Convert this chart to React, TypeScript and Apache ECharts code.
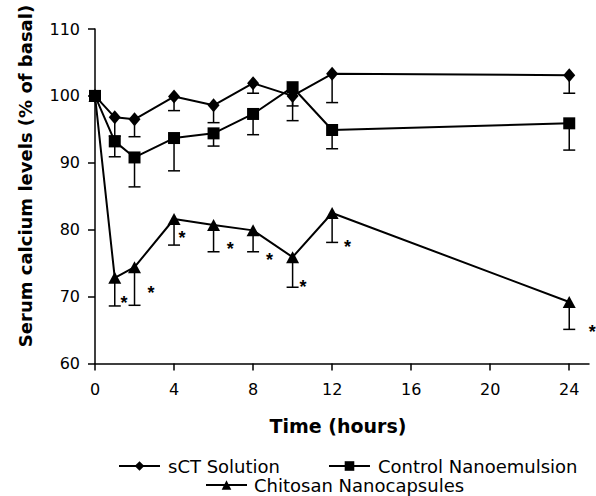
import React, { useEffect, useRef } from 'react';
import * as echarts from 'echarts';

const times = [0, 1, 2, 4, 6, 8, 10, 12, 24];
const sctMean = [100, 96.8, 96.5, 99.9, 98.6, 101.9, 100.0, 103.3, 103.1];
const sctErr = [0, 2.8, 2.6, 2.1, 2.6, 1.5, 3.7, 4.3, 2.7];
const controlMean = [100, 93.2, 90.8, 93.7, 94.4, 97.3, 101.3, 94.9, 95.9];
const controlErr = [0, 2.3, 4.4, 4.9, 1.9, 3.1, 2.8, 2.8, 4.0];
const chitosanMean = [100, 72.8, 74.4, 81.6, 80.7, 79.9, 75.9, 82.5, 69.2];
const chitosanErr = [0, 4.2, 5.7, 3.9, 4.0, 3.2, 4.5, 4.4, 4.1];
const xTicks = [0, 4, 8, 12, 16, 20, 24];
const asteriskX = [1.47, 2.83, 4.4, 6.85, 8.83, 10.52, 12.78, 25.16];
const asteriskY = [69.7, 71.1, 79.4, 77.7, 76.1, 72.1, 78.0, 65.3];

const names = ['sCT Solution', 'Control Nanoemulsion', 'Chitosan Nanocapsules'];
const FONT = 'DejaVu Sans';

function errorSeries(mean: number[], err: number[]) {
  return {
    type: 'custom',
    silent: true,
    z: 1,
    data: times.map((t, i) => [t, mean[i], err[i]]),
    encode: { x: 0, y: 1 },
    renderItem: (params: any, api: any) => {
      const x = api.value(0);
      const m = api.value(1);
      const e = api.value(2);
      if (!e) return null;
      const top = api.coord([x, m]);
      const bot = api.coord([x, m - e]);
      return {
        type: 'group',
        children: [
          { type: 'line', shape: { x1: top[0], y1: top[1], x2: bot[0], y2: bot[1] }, style: { stroke: '#000', lineWidth: 1.5 } },
          { type: 'line', shape: { x1: bot[0] - 6, y1: bot[1], x2: bot[0] + 6, y2: bot[1] }, style: { stroke: '#000', lineWidth: 1.5 } },
        ],
      };
    },
  };
}

function lineSeries(name: string, mean: number[], symbol: string, size: any) {
  return {
    type: 'line',
    name,
    z: 3,
    data: times.map((t, i) => [t, mean[i]]),
    symbol,
    symbolSize: size,
    showAllSymbol: true,
    lineStyle: { color: '#000', width: 2 },
    itemStyle: { color: '#000' },
  };
}

export default function App() {
  const ref = useRef<HTMLDivElement>(null);
  useEffect(() => {
    document.body.style.margin = '0';
    const chart = echarts.init(ref.current!, null, { renderer: 'svg' });
    chart.setOption({
      animation: false,
      backgroundColor: '#fff',
      grid: { left: 95, top: 29, right: 7, bottom: 132.5, containLabel: false },
      xAxis: {
        type: 'value',
        min: 0,
        max: 25,
        axisLine: { show: true, onZero: false, lineStyle: { color: '#000', width: 1.5 } },
        axisTick: { show: true, length: 7, customValues: xTicks, lineStyle: { color: '#000', width: 1.5 } },
        axisLabel: { customValues: xTicks, margin: 18, color: '#000', fontSize: 16, fontFamily: FONT },
        splitLine: { show: false },
      },
      yAxis: {
        type: 'value',
        min: 60,
        max: 110,
        interval: 10,
        axisLine: { show: true, lineStyle: { color: '#000', width: 1.5 } },
        axisTick: { show: true, length: 7, lineStyle: { color: '#000', width: 1.5 } },
        axisLabel: { margin: 15, color: '#000', fontSize: 16, fontFamily: FONT },
        splitLine: { show: false },
      },
      legend: [
        {
          data: [names[0], names[1]],
          left: 113,
          top: 452,
          itemWidth: 41,
          itemHeight: 12,
          itemGap: 48,
          textStyle: { color: '#000', fontSize: 18, fontFamily: FONT, padding: [0, 0, 0, 3] },
        },
        {
          data: [names[2]],
          left: 200,
          top: 471,
          itemWidth: 41,
          itemHeight: 12,
          textStyle: { color: '#000', fontSize: 18, fontFamily: FONT, padding: [0, 0, 0, 2] },
        },
      ],
      graphic: [
        {
          type: 'text',
          x: 25,
          y: 176,
          rotation: Math.PI / 2,
          style: {
            text: 'Serum calcium levels (% of basal)',
            font: `bold 18px "${FONT}"`,
            fill: '#000',
            textAlign: 'center',
            textVerticalAlign: 'middle',
          },
        },
        {
          type: 'text',
          x: 338,
          y: 426,
          style: {
            text: 'Time (hours)',
            font: `bold 19px "${FONT}"`,
            fill: '#000',
            textAlign: 'center',
            textVerticalAlign: 'middle',
          },
        },
      ],
      series: [
        errorSeries(sctMean, sctErr),
        errorSeries(controlMean, controlErr),
        errorSeries(chitosanMean, chitosanErr),
        lineSeries(names[0], sctMean, 'diamond', [12, 14]),
        lineSeries(names[1], controlMean, 'rect', 12),
        lineSeries(names[2], chitosanMean, 'triangle', [13, 12]),
        {
          type: 'custom',
          silent: true,
          clip: false,
          z: 4,
          data: asteriskX.map((x, i) => [x, asteriskY[i]]),
          encode: { x: 0, y: 1 },
          renderItem: (params: any, api: any) => {
            const p = api.coord([api.value(0), api.value(1)]);
            return {
              type: 'text',
              x: p[0],
              y: p[1] + 4,
              style: {
                text: '*',
                font: 'bold 18px "Liberation Sans"',
                fill: '#000',
                textAlign: 'center',
                textVerticalAlign: 'middle',
              },
            };
          },
        },
      ],
    });
    return () => chart.dispose();
  }, []);
  return <div ref={ref} style={{ width: 596, height: 496 }} />;
}
